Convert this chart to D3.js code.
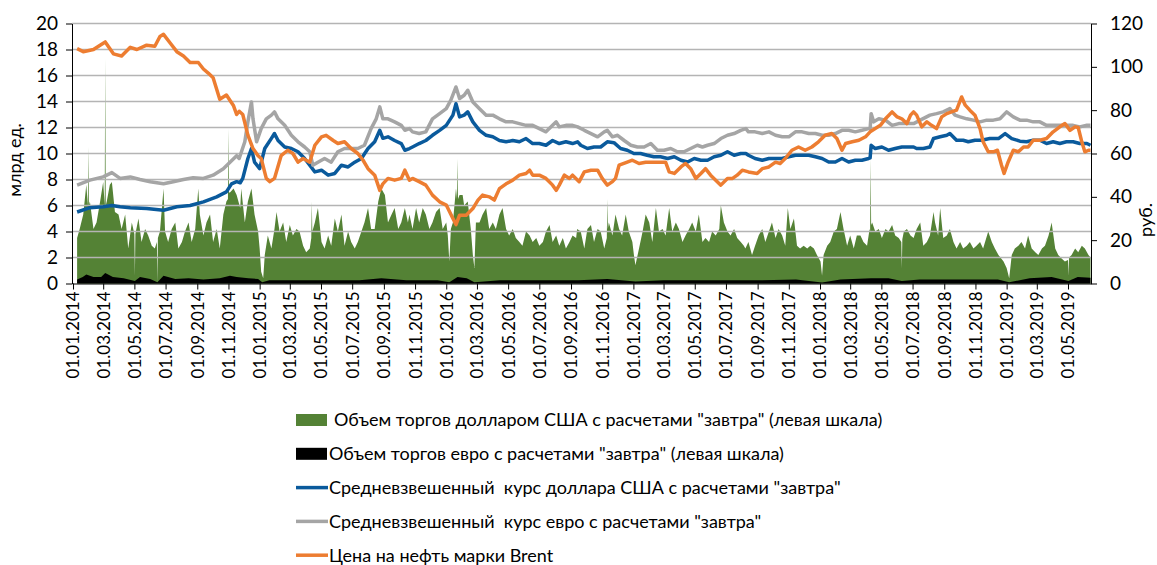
<!DOCTYPE html>
<html>
<head>
<meta charset="utf-8">
<script src="https://d3js.org/d3.v7.min.js"></script>
<style>
  body { margin: 0; background: #fff; }
  svg text { font-family: Lato, "Open Sans", sans-serif; fill: #000; white-space: pre; }
</style>
</head>
<body>
<div id="plot"></div>
<script>

// объем торгов долларом США, млрд ед. (левая шкала)
var usdVolume = [
  ["2014-01-09",3.5],["2014-01-14",4.2],["2014-01-21",5.3],["2014-01-27",7.6],["2014-01-30",6.0],["2014-01-31",10.5],["2014-02-01",6.0],["2014-02-03",6.3],
  ["2014-02-10",4.2],["2014-02-16",4.7],["2014-02-23",6.3],["2014-03-01",7.8],["2014-03-04",6.0],["2014-03-05",17.3],["2014-03-06",6.0],["2014-03-08",6.3],
  ["2014-03-14",7.6],["2014-03-18",7.8],["2014-03-24",5.5],["2014-03-31",5.3],["2014-04-06",4.2],["2014-04-13",5.3],
  ["2014-04-19",2.7],["2014-04-26",4.7],["2014-05-01",3.8],["2014-05-02",0.6],["2014-05-03",3.8],["2014-05-09",5.0],["2014-05-15",3.2],["2014-05-22",4.2],
  ["2014-05-28",3.7],["2014-06-04",2.9],["2014-06-10",2.7],["2014-06-14",3.2],["2014-06-15",0.1],["2014-06-16",3.5],["2014-06-20",4.0],["2014-06-27",7.3],
  ["2014-06-30",4.0],["2014-07-06",3.2],["2014-07-13",4.2],["2014-07-20",4.7],["2014-07-26",2.7],["2014-08-02",3.2],
  ["2014-08-08",4.0],["2014-08-15",4.7],["2014-08-21",3.2],["2014-08-28",4.2],["2014-09-03",7.3],["2014-09-06",5.3],
  ["2014-09-13",3.7],["2014-09-19",4.7],["2014-09-26",5.3],["2014-10-02",3.2],["2014-10-09",4.2],["2014-10-15",2.7],
  ["2014-10-22",5.3],["2014-10-28",6.3],["2014-10-31",6.5],["2014-11-01",11.9],["2014-11-02",7.0],["2014-11-04",7.0],["2014-11-11",7.3],["2014-11-17",6.8],
  ["2014-11-24",5.8],["2014-11-26",7.3],["2014-12-03",4.7],["2014-12-09",6.3],["2014-12-16",7.3],["2014-12-22",5.3],
  ["2014-12-29",4.0],["2015-01-01",2.7],["2015-01-04",0.9],["2015-01-08",0.4],["2015-01-11",2.2],["2015-01-17",3.7],
  ["2015-01-24",2.7],["2015-01-30",4.2],["2015-02-03",5.5],["2015-02-09",4.0],["2015-02-16",4.7],["2015-02-22",3.2],
  ["2015-03-01",4.5],["2015-03-07",3.7],["2015-03-14",4.2],["2015-03-20",4.0],["2015-03-27",2.9],["2015-04-02",2.4],
  ["2015-04-09",2.7],["2015-04-12",3.5],["2015-04-13",6.3],["2015-04-14",4.0],["2015-04-19",4.7],["2015-04-25",5.8],["2015-05-02",3.2],["2015-05-08",2.7],
  ["2015-05-15",3.7],["2015-05-21",2.9],["2015-05-28",5.0],["2015-06-03",4.0],["2015-06-10",5.3],["2015-06-16",2.9],
  ["2015-06-23",4.0],["2015-06-29",3.2],["2015-07-06",2.7],["2015-07-12",3.2],["2015-07-19",4.0],["2015-07-25",4.7],
  ["2015-08-01",5.8],["2015-08-07",4.2],["2015-08-14",4.2],["2015-08-21",6.3],["2015-08-27",7.3],["2015-09-03",6.8],
  ["2015-09-09",4.7],["2015-09-16",5.3],["2015-09-22",5.8],["2015-09-29",4.2],["2015-10-05",4.7],["2015-10-12",5.8],
  ["2015-10-18",4.7],["2015-10-21",5.3],["2015-10-27",4.2],["2015-11-03",5.8],["2015-11-09",4.7],["2015-11-16",5.8],
  ["2015-11-22",5.3],["2015-11-29",4.2],["2015-12-05",4.7],["2015-12-12",5.5],["2015-12-19",5.8],["2015-12-25",4.2],
  ["2016-01-01",4.7],["2016-01-04",3.7],["2016-01-07",1.7],["2016-01-10",4.2],["2016-01-14",4.7],["2016-01-20",7.3],
  ["2016-01-22",6.5],["2016-01-23",9.6],["2016-01-24",6.5],["2016-01-27",6.8],["2016-02-02",6.8],["2016-02-05",6.0],["2016-02-12",6.3],["2016-02-18",4.2],
  ["2016-02-22",2.2],["2016-02-25",1.2],["2016-02-28",4.7],["2016-03-06",4.7],["2016-03-12",5.3],["2016-03-19",5.8],
  ["2016-03-25",4.2],["2016-04-01",4.7],["2016-04-07",4.2],["2016-04-14",5.3],["2016-04-20",5.8],["2016-04-27",4.2],
  ["2016-05-03",3.7],["2016-05-10",4.2],["2016-05-16",3.5],["2016-05-23",3.2],["2016-05-29",2.9],["2016-06-05",4.0],
  ["2016-06-12",3.7],["2016-06-18",3.2],["2016-06-25",3.5],["2016-07-01",2.9],["2016-07-08",3.2],["2016-07-14",4.0],
  ["2016-07-21",4.5],["2016-07-27",3.2],["2016-08-03",3.7],["2016-08-09",2.9],["2016-08-16",3.5],["2016-08-22",2.7],
  ["2016-08-29",3.2],["2016-09-04",3.7],["2016-09-11",3.5],["2016-09-13",4.2],["2016-09-20",4.0],["2016-09-27",2.7],
  ["2016-10-03",4.2],["2016-10-10",4.5],["2016-10-16",3.2],["2016-10-23",4.2],["2016-10-29",4.0],["2016-11-05",2.7],
  ["2016-11-10",3.5],["2016-11-11",6.5],["2016-11-12",4.2],["2016-11-14",4.7],["2016-11-21",3.7],["2016-11-27",5.3],["2016-12-04",4.2],["2016-12-10",3.7],
  ["2016-12-17",5.3],["2016-12-23",4.0],["2016-12-30",3.2],["2017-01-02",2.2],["2017-01-05",1.4],["2017-01-12",2.7],
  ["2017-01-19",4.0],["2017-01-25",5.3],["2017-02-01",4.7],["2017-02-07",3.2],["2017-02-14",5.8],["2017-02-20",4.0],
  ["2017-02-27",4.2],["2017-03-05",3.7],["2017-03-12",5.8],["2017-03-18",4.0],["2017-03-25",4.7],["2017-03-31",4.2],
  ["2017-04-07",3.2],["2017-04-13",3.7],["2017-04-20",4.2],["2017-04-26",4.7],["2017-05-03",4.0],["2017-05-09",5.3],
  ["2017-05-16",3.2],["2017-05-22",3.5],["2017-05-29",3.2],["2017-06-04",4.0],["2017-06-11",3.7],["2017-06-18",4.2],
  ["2017-06-21",6.0],["2017-06-27",4.7],["2017-07-04",4.0],["2017-07-10",3.7],["2017-07-17",4.2],["2017-07-23",3.5],
  ["2017-07-30",3.2],["2017-08-05",2.9],["2017-08-08",2.7],["2017-08-14",3.2],["2017-08-21",2.2],["2017-08-27",2.9],
  ["2017-09-03",3.7],["2017-09-10",4.2],["2017-09-16",3.2],["2017-09-23",4.0],["2017-09-29",4.7],["2017-10-06",3.5],
  ["2017-10-12",4.2],["2017-10-19",3.7],["2017-10-25",2.9],["2017-10-30",5.8],["2017-11-04",4.2],["2017-11-11",5.0],
  ["2017-11-17",2.9],["2017-11-23",2.7],["2017-11-30",2.9],["2017-12-07",2.7],["2017-12-13",2.9],["2017-12-20",2.7],
  ["2017-12-26",2.2],["2018-01-02",1.7],["2018-01-05",0.6],["2018-01-08",2.2],["2018-01-15",2.9],["2018-01-21",3.2],
  ["2018-01-28",4.0],["2018-02-03",4.2],["2018-02-10",5.5],["2018-02-16",4.2],["2018-02-23",2.9],["2018-03-01",3.7],
  ["2018-03-08",2.7],["2018-03-14",3.7],["2018-03-21",3.7],["2018-03-27",3.2],["2018-04-03",2.9],["2018-04-08",4.2],
  ["2018-04-09",4.0],["2018-04-10",9.6],["2018-04-11",4.5],["2018-04-13",4.7],["2018-04-19",4.0],["2018-04-26",4.2],["2018-05-02",3.5],["2018-05-09",4.2],
  ["2018-05-15",4.0],["2018-05-22",4.5],["2018-05-28",3.7],["2018-06-04",3.5],["2018-06-09",3.2],["2018-06-10",1.2],["2018-06-11",3.4],["2018-06-14",4.0],
  ["2018-06-20",4.2],["2018-06-27",3.7],["2018-07-03",3.5],["2018-07-09",4.2],["2018-07-16",4.7],["2018-07-22",2.9],
  ["2018-07-29",3.2],["2018-08-04",3.7],["2018-08-11",5.5],["2018-08-14",4.7],["2018-08-20",3.7],["2018-08-24",5.8],
  ["2018-08-30",3.5],["2018-09-06",3.7],["2018-09-12",4.2],["2018-09-19",3.2],["2018-09-25",2.7],["2018-10-02",3.2],
  ["2018-10-08",2.7],["2018-10-15",2.9],["2018-10-21",3.2],["2018-10-28",2.7],["2018-11-03",2.9],["2018-11-10",3.2],
  ["2018-11-16",2.7],["2018-11-26",4.0],["2018-12-03",3.2],["2018-12-09",2.7],["2018-12-16",2.2],["2018-12-26",1.7],
  ["2019-01-01",1.2],["2019-01-06",0.4],["2019-01-11",2.2],["2019-01-17",2.7],["2019-01-24",2.9],["2019-01-30",3.2],
  ["2019-02-06",2.7],["2019-02-12",3.7],["2019-02-19",2.7],["2019-02-26",2.4],["2019-03-04",2.2],["2019-03-11",2.7],
  ["2019-03-17",2.9],["2019-03-24",3.7],["2019-03-30",4.7],["2019-04-06",2.7],["2019-04-12",2.2],["2019-04-19",1.9],
  ["2019-04-25",1.7],["2019-05-01",1.8],["2019-05-02",0.6],["2019-05-03",2.0],["2019-05-08",2.2],["2019-05-15",2.7],["2019-05-21",2.4],["2019-05-28",2.9],
  ["2019-06-03",2.7],["2019-06-10",2.2],["2019-06-14",2.0]
];

// объем торгов евро, млрд ед. (левая шкала)
var eurVolume = [
  ["2014-01-09",0.3],["2014-01-20",0.5],["2014-01-27",0.7],["2014-02-10",0.5],["2014-02-25",0.5],["2014-03-05",0.8],
  ["2014-03-20",0.5],["2014-04-10",0.4],["2014-05-02",0.2],["2014-05-12",0.5],["2014-06-01",0.35],["2014-06-15",0.1],
  ["2014-06-27",0.6],["2014-07-20",0.35],["2014-08-15",0.4],["2014-09-13",0.3],["2014-10-15",0.4],["2014-11-04",0.6],
  ["2014-11-17",0.5],["2014-12-10",0.4],["2014-12-29",0.35],["2015-01-06",0.1],["2015-01-20",0.25],["2015-03-15",0.25],
  ["2015-05-15",0.25],["2015-07-15",0.25],["2015-08-27",0.4],["2015-10-15",0.25],["2015-12-15",0.25],["2016-01-07",0.1],
  ["2016-01-23",0.5],["2016-02-10",0.4],["2016-02-25",0.1],["2016-04-15",0.25],["2016-07-01",0.25],["2016-09-15",0.25],
  ["2016-11-11",0.35],["2017-01-05",0.15],["2017-03-01",0.25],["2017-06-01",0.25],["2017-09-01",0.25],["2017-11-15",0.3],
  ["2018-01-05",0.08],["2018-02-10",0.3],["2018-04-11",0.4],["2018-05-15",0.4],["2018-06-10",0.2],["2018-07-15",0.3],
  ["2018-10-01",0.3],["2018-12-15",0.3],["2019-01-06",0.1],["2019-02-15",0.4],["2019-03-30",0.5],["2019-05-02",0.2],
  ["2019-05-20",0.5],["2019-06-14",0.45]
];

// средневзвешенный курс доллара США, руб. (правая шкала)
var usdRate = [
  ["2014-01-09",33.0],["2014-02-03",35.0],["2014-03-01",35.4],["2014-03-18",36.0],["2014-04-03",35.4],["2014-04-23",35.0],
  ["2014-05-25",34.6],["2014-06-27",33.8],["2014-07-23",35.4],["2014-08-18",36.0],["2014-09-13",37.7],["2014-10-09",40.0],
  ["2014-10-28",42.3],["2014-11-07",46.0],["2014-11-17",47.0],["2014-11-24",46.5],["2014-11-29",48.5],["2014-12-09",57.7],
  ["2014-12-16",62.3],["2014-12-22",56.0],["2015-01-01",53.0],["2015-01-11",62.3],["2015-01-24",67.0],["2015-01-30",69.2],
  ["2015-02-06",66.0],["2015-02-19",63.0],["2015-03-04",62.3],["2015-03-17",60.8],["2015-03-30",57.7],["2015-04-09",54.6],
  ["2015-04-19",51.5],["2015-05-02",52.3],["2015-05-15",50.0],["2015-05-28",50.8],["2015-06-10",54.6],["2015-06-23",53.8],
  ["2015-07-06",56.0],["2015-07-19",57.7],["2015-08-01",62.3],["2015-08-14",65.4],["2015-08-24",70.7],["2015-08-30",67.0],
  ["2015-09-09",67.7],["2015-09-22",66.0],["2015-10-05",64.6],["2015-10-12",61.5],["2015-10-21",62.3],["2015-10-27",63.0],
  ["2015-11-09",64.6],["2015-11-22",66.0],["2015-12-05",68.4],["2015-12-19",70.7],["2016-01-01",73.0],["2016-01-14",77.7],
  ["2016-01-20",83.0],["2016-01-27",76.9],["2016-02-05",77.7],["2016-02-12",79.2],["2016-02-22",74.6],["2016-03-06",70.7],
  ["2016-03-19",68.4],["2016-04-01",67.7],["2016-04-14",66.0],["2016-04-27",65.4],["2016-05-10",66.0],["2016-05-23",65.4],
  ["2016-06-05",66.9],["2016-06-18",64.6],["2016-07-01",64.6],["2016-07-14",63.8],["2016-07-27",66.0],["2016-08-09",64.6],
  ["2016-08-22",65.4],["2016-09-04",64.6],["2016-09-14",65.4],["2016-09-20",63.8],["2016-10-03",62.3],["2016-10-16",63.0],
  ["2016-10-29",63.0],["2016-11-11",65.4],["2016-11-24",65.0],["2016-12-07",62.3],["2016-12-20",61.5],["2017-01-02",60.0],
  ["2017-01-15",60.0],["2017-01-28",59.2],["2017-02-10",58.5],["2017-02-23",58.5],["2017-03-09",57.7],["2017-03-22",58.5],
  ["2017-04-04",56.9],["2017-04-17",56.1],["2017-04-30",57.7],["2017-05-13",56.9],["2017-05-26",56.9],["2017-06-08",58.5],
  ["2017-06-21",59.2],["2017-07-04",60.8],["2017-07-17",59.2],["2017-07-30",60.0],["2017-08-09",60.0],["2017-08-14",59.2],
  ["2017-08-27",57.7],["2017-09-10",56.9],["2017-09-23",57.7],["2017-10-06",57.7],["2017-10-19",57.7],["2017-11-01",58.5],
  ["2017-11-14",59.2],["2017-11-27",59.2],["2017-12-10",59.2],["2017-12-23",58.5],["2018-01-05",57.7],["2018-01-18",56.1],
  ["2018-01-31",56.1],["2018-02-13",57.7],["2018-02-26",56.1],["2018-03-11",56.9],["2018-03-24",56.9],["2018-04-06",57.7],
  ["2018-04-09",58.0],["2018-04-11",63.8],["2018-04-19",62.3],["2018-05-02",63.0],["2018-05-15",61.5],["2018-05-28",62.3],
  ["2018-06-10",63.0],["2018-06-23",63.0],["2018-07-03",63.0],["2018-07-09",62.3],["2018-07-22",62.3],["2018-08-04",63.0],
  ["2018-08-11",66.9],["2018-08-24",67.7],["2018-09-06",68.4],["2018-09-12",69.2],["2018-09-25",66.1],["2018-10-08",66.1],
  ["2018-10-18",65.4],["2018-10-31",66.1],["2018-11-13",66.1],["2018-11-29",66.9],["2018-12-16",66.9],["2018-12-29",69.2],
  ["2019-01-11",66.9],["2019-01-27",65.7],["2019-02-09",65.4],["2019-02-22",66.1],["2019-03-07",66.1],["2019-03-20",64.6],
  ["2019-04-02",65.4],["2019-04-15",64.6],["2019-04-28",65.4],["2019-05-11",65.4],["2019-05-24",64.6],["2019-06-07",64.6],
  ["2019-06-14",63.8]
];

// средневзвешенный курс евро, руб. (правая шкала)
var eurRate = [
  ["2014-01-09",45.4],["2014-02-03",47.7],["2014-03-01",49.2],["2014-03-18",51.2],["2014-04-03",48.5],["2014-04-23",49.2],
  ["2014-05-12",48.0],["2014-06-01",47.0],["2014-06-27",46.0],["2014-07-16",47.0],["2014-08-05",48.0],["2014-08-24",48.8],
  ["2014-09-13",48.5],["2014-10-02",50.0],["2014-10-22",53.0],["2014-11-04",56.0],["2014-11-17",59.0],["2014-11-22",57.7],
  ["2014-12-03",65.4],["2014-12-09",74.6],["2014-12-16",83.8],["2014-12-19",76.0],["2014-12-26",65.4],["2015-01-04",71.5],
  ["2015-01-14",76.0],["2015-01-24",77.7],["2015-01-30",79.2],["2015-02-06",76.0],["2015-02-19",73.0],["2015-03-04",68.4],
  ["2015-03-17",65.4],["2015-03-30",63.0],["2015-04-09",60.8],["2015-04-15",54.6],["2015-04-25",56.0],["2015-05-08",57.7],
  ["2015-05-21",56.0],["2015-06-03",60.8],["2015-06-16",62.3],["2015-06-29",62.3],["2015-07-12",62.3],["2015-07-25",63.8],
  ["2015-08-07",71.5],["2015-08-17",76.0],["2015-08-24",81.5],["2015-08-30",76.0],["2015-09-09",76.0],["2015-09-22",74.6],
  ["2015-10-05",73.0],["2015-10-12",70.7],["2015-10-21",71.5],["2015-10-27",70.0],["2015-11-09",69.2],["2015-11-22",70.0],
  ["2015-12-05",76.0],["2015-12-19",78.4],["2016-01-01",80.7],["2016-01-10",84.6],["2016-01-20",90.7],["2016-01-27",85.4],
  ["2016-02-05",86.9],["2016-02-12",89.2],["2016-02-22",83.8],["2016-03-06",80.7],["2016-03-19",77.7],["2016-04-01",77.7],
  ["2016-04-14",76.0],["2016-04-27",74.6],["2016-05-10",74.6],["2016-05-23",73.8],["2016-06-05",73.0],["2016-06-18",73.0],
  ["2016-07-01",71.5],["2016-07-14",70.0],["2016-07-27",73.0],["2016-08-03",74.6],["2016-08-09",72.3],["2016-08-22",73.0],
  ["2016-09-04",73.0],["2016-09-14",72.3],["2016-09-27",70.7],["2016-10-10",69.2],["2016-10-23",67.7],["2016-11-05",70.0],
  ["2016-11-11",70.7],["2016-11-21",67.7],["2016-12-01",68.4],["2016-12-14",66.0],["2016-12-27",63.8],["2017-01-09",63.0],
  ["2017-01-22",63.0],["2017-02-04",64.6],["2017-02-17",61.5],["2017-03-02",61.5],["2017-03-15",62.3],["2017-03-28",60.8],
  ["2017-04-10",60.8],["2017-04-23",62.3],["2017-05-06",63.8],["2017-05-16",63.0],["2017-05-26",63.8],["2017-06-08",64.6],
  ["2017-06-21",66.9],["2017-07-04",68.4],["2017-07-17",69.2],["2017-07-30",70.7],["2017-08-09",71.5],["2017-08-14",70.0],
  ["2017-08-27",70.0],["2017-09-10",69.2],["2017-09-23",70.0],["2017-10-06",68.4],["2017-10-19",67.7],["2017-11-01",67.7],
  ["2017-11-14",70.0],["2017-11-27",70.0],["2017-12-10",69.2],["2017-12-23",69.2],["2018-01-05",68.4],["2018-01-18",68.4],
  ["2018-01-31",69.2],["2018-02-13",70.7],["2018-02-26",70.7],["2018-03-11",70.0],["2018-03-24",70.7],["2018-04-06",71.5],
  ["2018-04-09",71.5],["2018-04-11",78.4],["2018-04-16",74.6],["2018-04-26",76.0],["2018-05-09",75.4],["2018-05-22",73.0],
  ["2018-06-04",73.8],["2018-06-17",73.8],["2018-07-03",73.8],["2018-07-16",75.4],["2018-08-04",77.7],["2018-08-17",78.4],
  ["2018-08-30",79.2],["2018-09-12",80.7],["2018-09-22",77.7],["2018-10-02",76.9],["2018-10-15",76.0],["2018-10-28",75.4],
  ["2018-11-10",74.6],["2018-11-23",75.4],["2018-12-06",75.4],["2018-12-19",76.0],["2019-01-01",79.2],["2019-01-14",76.9],
  ["2019-01-27",75.4],["2019-02-09",75.4],["2019-02-22",74.6],["2019-03-07",74.6],["2019-03-20",73.0],["2019-04-02",73.0],
  ["2019-04-15",73.0],["2019-04-28",73.0],["2019-05-11",73.0],["2019-05-24",72.3],["2019-06-07",73.0],["2019-06-14",73.0]
];

// цена на нефть марки Brent (правая шкала)
var brentPrice = [
  ["2014-01-09",108.4],["2014-01-21",107.0],["2014-02-10",108.0],["2014-02-23",110.0],["2014-03-05",111.5],["2014-03-21",106.0],
  ["2014-04-06",105.0],["2014-04-23",109.0],["2014-05-06",108.0],["2014-05-25",110.0],["2014-06-10",109.5],["2014-06-20",114.0],
  ["2014-06-27",115.0],["2014-07-10",111.0],["2014-07-23",107.0],["2014-08-05",105.0],["2014-08-18",102.0],["2014-09-03",102.0],
  ["2014-09-13",99.0],["2014-09-23",97.0],["2014-10-02",95.0],["2014-10-15",85.0],["2014-10-28",87.0],["2014-11-11",82.0],
  ["2014-11-17",78.0],["2014-11-22",79.5],["2014-11-29",78.0],["2014-12-09",68.5],["2014-12-19",62.3],["2014-12-29",59.0],
  ["2015-01-04",57.7],["2015-01-14",48.5],["2015-01-21",47.0],["2015-01-30",48.5],["2015-02-12",59.0],["2015-02-25",61.5],
  ["2015-03-07",60.0],["2015-03-17",56.0],["2015-03-27",57.7],["2015-04-09",56.0],["2015-04-19",63.8],["2015-05-02",67.7],
  ["2015-05-11",68.4],["2015-05-25",66.0],["2015-06-03",64.6],["2015-06-16",65.4],["2015-06-29",62.3],["2015-07-12",60.0],
  ["2015-07-22",57.0],["2015-08-01",53.0],["2015-08-14",50.0],["2015-08-24",43.0],["2015-08-30",46.0],["2015-09-09",48.5],
  ["2015-09-22",47.7],["2015-10-05",48.5],["2015-10-12",52.3],["2015-10-21",47.7],["2015-10-27",48.5],["2015-11-09",47.0],
  ["2015-11-22",45.4],["2015-12-05",40.8],["2015-12-19",37.7],["2016-01-01",36.2],["2016-01-14",30.0],["2016-01-20",27.2],
  ["2016-01-27",31.5],["2016-02-09",31.5],["2016-02-22",34.6],["2016-03-03",38.5],["2016-03-12",40.8],["2016-03-25",40.0],
  ["2016-04-04",38.5],["2016-04-14",43.8],["2016-04-27",46.0],["2016-05-10",47.7],["2016-05-23",50.0],["2016-06-05",50.8],
  ["2016-06-12",52.3],["2016-06-18",50.0],["2016-07-01",50.0],["2016-07-14",48.5],["2016-07-27",45.4],["2016-08-03",43.0],
  ["2016-08-09",45.4],["2016-08-19",50.0],["2016-08-29",48.5],["2016-09-04",50.0],["2016-09-14",47.7],["2016-09-17",47.0],
  ["2016-09-27",51.5],["2016-10-10",52.3],["2016-10-23",52.3],["2016-11-01",48.5],["2016-11-11",45.4],["2016-11-21",47.0],
  ["2016-11-27",48.5],["2016-12-04",54.6],["2016-12-20",56.0],["2016-12-30",56.9],["2017-01-12",55.4],["2017-01-25",56.0],
  ["2017-02-07",56.0],["2017-02-20",56.0],["2017-03-05",56.0],["2017-03-12",51.5],["2017-03-22",50.8],["2017-04-04",53.8],
  ["2017-04-13",55.4],["2017-04-23",53.0],["2017-05-03",48.5],["2017-05-13",50.8],["2017-05-22",53.0],["2017-06-01",50.0],
  ["2017-06-11",47.7],["2017-06-21",45.4],["2017-07-04",48.5],["2017-07-14",48.5],["2017-07-23",50.0],["2017-08-02",52.3],
  ["2017-08-14",51.5],["2017-08-31",50.8],["2017-09-10",53.0],["2017-09-23",53.8],["2017-10-06",56.0],["2017-10-15",55.4],
  ["2017-10-25",57.7],["2017-11-07",61.5],["2017-11-20",63.0],["2017-12-03",61.5],["2017-12-16",63.0],["2017-12-29",65.4],
  ["2018-01-11",68.4],["2018-01-24",69.2],["2018-02-03",66.9],["2018-02-13",61.5],["2018-02-20",64.6],["2018-03-05",65.4],
  ["2018-03-18",66.1],["2018-03-31",67.7],["2018-04-09",70.0],["2018-04-19",71.5],["2018-04-29",73.0],["2018-05-09",76.0],
  ["2018-05-22",79.2],["2018-06-01",76.9],["2018-06-10",76.0],["2018-06-20",73.8],["2018-06-27",77.7],["2018-07-03",79.2],
  ["2018-07-09",77.7],["2018-07-19",72.3],["2018-07-29",74.6],["2018-08-07",73.0],["2018-08-17",71.5],["2018-08-27",76.9],
  ["2018-09-06",78.4],["2018-09-15",79.2],["2018-09-25",80.0],["2018-10-05",86.1],["2018-10-12",82.3],["2018-10-21",80.0],
  ["2018-10-31",77.7],["2018-11-10",71.5],["2018-11-16",65.4],["2018-11-26",60.8],["2018-12-06",60.8],["2018-12-14",61.5],
  ["2018-12-22",54.6],["2018-12-27",50.8],["2019-01-04",56.1],["2019-01-14",61.5],["2019-01-24",60.8],["2019-02-03",63.0],
  ["2019-02-12",63.0],["2019-02-22",66.1],["2019-03-07",66.1],["2019-03-20",66.9],["2019-04-02",70.0],["2019-04-15",72.3],
  ["2019-04-25",73.8],["2019-05-05",70.7],["2019-05-15",72.3],["2019-05-21",72.0],["2019-05-28",65.4],["2019-06-03",60.8],
  ["2019-06-10",61.5],["2019-06-14",61.5]
];

var leftTicks = [0, 2, 4, 6, 8, 10, 12, 14, 16, 18, 20];
var rightTicks = [0, 20, 40, 60, 80, 100, 120];
var legendLabels = [
  'Объем торгов долларом США с расчетами "завтра" (левая шкала)',
  'Объем торгов евро с расчетами "завтра" (левая шкала)',
  'Средневзвешенный  курс доллара США с расчетами "завтра"',
  'Средневзвешенный  курс евро с расчетами "завтра"',
  'Цена на нефть марки Brent'
];

var W = 1157, H = 565;
var plotL = 72, plotR = 1091, plotT = 23.5, plotB = 283.5;
var parse = d3.timeParse("%Y-%m-%d");

var svg = d3.select("#plot").append("svg")
  .attr("width", W)
  .attr("height", H);

var x = d3.scaleTime()
  .domain([parse("2013-12-30"), parse("2019-06-15")])
  .range([plotL, plotR]);
var yL = d3.scaleLinear().domain([0, 20]).range([plotB, plotT]);
var yR = d3.scaleLinear().domain([0, 120]).range([plotB, plotT]);

// areas (left scale)
var area = d3.area()
  .x(function(d) { return x(parse(d[0])); })
  .y0(yL(0))
  .y1(function(d) { return yL(d[1]); });

svg.append("path").attr("d", area(usdVolume)).attr("fill", "#548235");
svg.append("path").attr("d", area(eurVolume)).attr("fill", "#000");

// gridlines
svg.append("g").selectAll("line").data(leftTicks.slice(1)).enter()
  .append("line")
  .attr("x1", plotL).attr("x2", plotR)
  .attr("y1", function(d) { return yL(d); })
  .attr("y2", function(d) { return yL(d); })
  .attr("stroke", "#b4b4b4")
  .attr("stroke-width", 1.3);

// lines (right scale)
var line = d3.line()
  .x(function(d) { return x(parse(d[0])); })
  .y(function(d) { return yR(d[1]); });

var lines = [[usdRate, "#0a5a9c"], [eurRate, "#a5a5a5"], [brentPrice, "#ed7d31"]];
lines.forEach(function(l) {
  svg.append("path")
    .attr("d", line(l[0]))
    .attr("fill", "none")
    .attr("stroke", l[1])
    .attr("stroke-width", 3.5)
    .attr("stroke-linejoin", "round");
});

// x axis
var xTicks = d3.timeMonth.every(2).range(parse("2014-01-01"), parse("2019-05-02"));
var xAxis = svg.append("g")
  .attr("transform", "translate(0," + plotB + ")")
  .call(d3.axisBottom(x).tickValues(xTicks).tickFormat(d3.timeFormat("%d.%m.%Y")).tickSize(6).tickSizeOuter(0));
xAxis.selectAll("text")
  .attr("transform", "rotate(-90)")
  .attr("text-anchor", "end")
  .attr("x", -8).attr("y", 0).attr("dy", "0.35em")
  .style("font-size", "17px");

// left axis
var yAxisL = svg.append("g")
  .attr("transform", "translate(" + plotL + ",0)")
  .call(d3.axisLeft(yL).tickValues(leftTicks).tickSize(6).tickSizeOuter(0).tickPadding(8));
yAxisL.selectAll("text").style("font-size", "19px");

// right axis
var yAxisR = svg.append("g")
  .attr("transform", "translate(" + plotR + ",0)")
  .call(d3.axisRight(yR).tickValues(rightTicks).tickSize(6).tickSizeOuter(0).tickPadding(13));
yAxisR.selectAll("text").style("font-size", "19px");

svg.selectAll(".domain, .tick line").attr("stroke", "#000");

// axis titles
svg.append("text")
  .attr("transform", "translate(21,160) rotate(-90)")
  .attr("text-anchor", "middle")
  .style("font-size", "18px")
  .text("млрд ед.");
svg.append("text")
  .attr("transform", "translate(1152,220) rotate(-90)")
  .attr("text-anchor", "middle")
  .style("font-size", "18px")
  .text("руб.");

// legend
var legendColors = ["#548235", "#000", "#0a5a9c", "#a5a5a5", "#ed7d31"];
var legend = svg.append("g");
legendLabels.forEach(function(label, i) {
  var cy = 420 + i * 33.8;
  if (i < 2) {
    legend.append("rect")
      .attr("x", 296).attr("y", cy - 6)
      .attr("width", 31).attr("height", 12)
      .attr("fill", legendColors[i]);
  } else {
    legend.append("line")
      .attr("x1", 296).attr("x2", 328)
      .attr("y1", cy).attr("y2", cy)
      .attr("stroke", legendColors[i])
      .attr("stroke-width", 3.5);
  }
  legend.append("text")
    .attr("x", i == 0 ? 334 : 329)
    .attr("y", cy)
    .attr("dy", "0.35em")
    .style("font-size", "18px")
    .text(label);
});
</script>
</body>
</html>
